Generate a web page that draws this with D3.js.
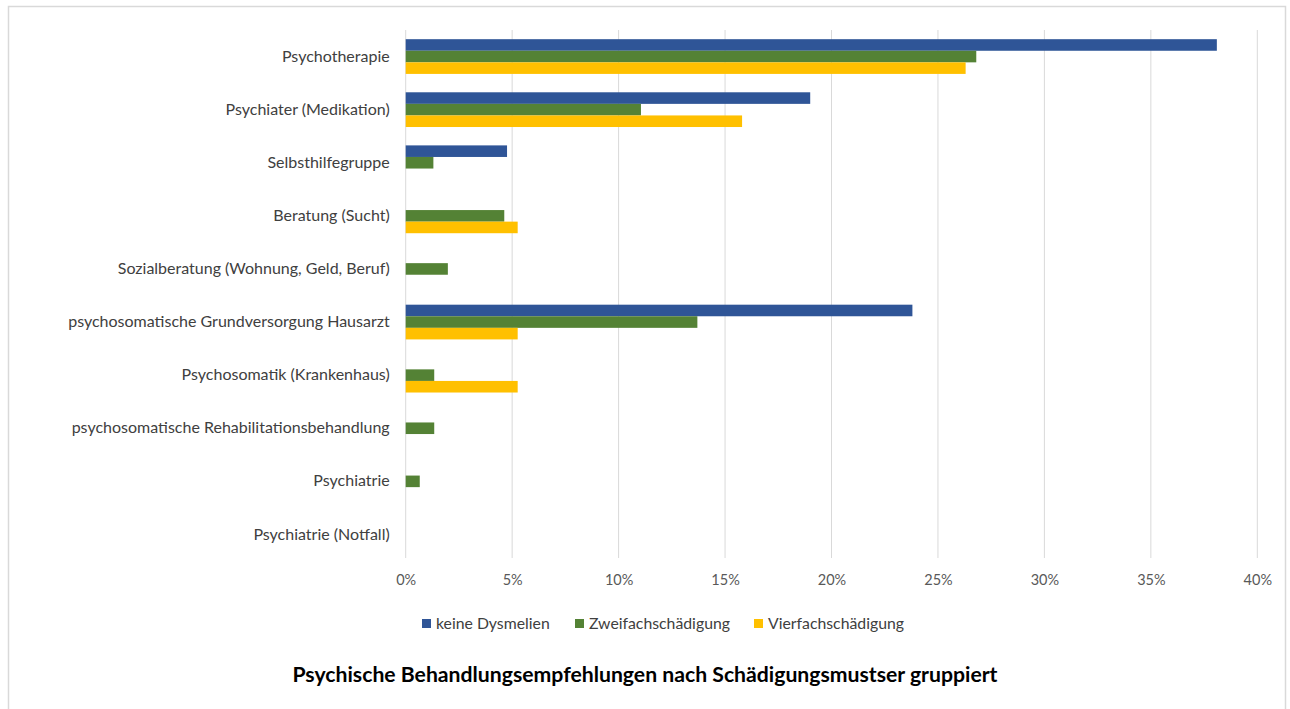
<!DOCTYPE html>
<html>
<head>
<meta charset="utf-8">
<script src="https://cdn.jsdelivr.net/npm/d3@7/dist/d3.min.js"></script>
<style>
  html, body { margin: 0; padding: 0; background: #ffffff; }
  svg { display: block; font-family: Lato, "Open Sans", sans-serif; }
</style>
</head>
<body>
<svg id="chart" width="1290" height="709"></svg>
<script>
// Treatment recommendations (share of respondents, %)
const categories = [
  "Psychotherapie",
  "Psychiater (Medikation)",
  "Selbsthilfegruppe",
  "Beratung (Sucht)",
  "Sozialberatung (Wohnung, Geld, Beruf)",
  "psychosomatische Grundversorgung Hausarzt",
  "Psychosomatik (Krankenhaus)",
  "psychosomatische Rehabilitationsbehandlung",
  "Psychiatrie",
  "Psychiatrie (Notfall)"
];
const seriesNames = ["keine Dysmelien", "Zweifachschädigung", "Vierfachschädigung"];
const keineDysmelien     = [38.1, 19.0, 4.76, 0, 0, 23.8, 0, 0, 0, 0];
const zweifachschaedigung = [26.8, 11.05, 1.3, 4.63, 1.98, 13.7, 1.34, 1.34, 0.66, 0];
const vierfachschaedigung = [26.3, 15.8, 0, 5.26, 0, 5.26, 5.26, 0, 0, 0];
const xTicks = [0, 5, 10, 15, 20, 25, 30, 35, 40];
const titleText = "Psychische Behandlungsempfehlungen nach Schädigungsmustser gruppiert";

const seriesValues = [keineDysmelien, zweifachschaedigung, vierfachschaedigung];
const colors = ["#2F5597", "#548235", "#FFC000"];

const svg = d3.select("#chart");

// outer chart frame
svg.append("rect")
  .attr("x", 8.5).attr("y", 6.5)
  .attr("width", 1277).attr("height", 720)
  .attr("fill", "#ffffff")
  .attr("stroke", "#d9d9d9").attr("stroke-width", 1.5);

const plot = { left: 405.7, right: 1257.3, top: 30, bottom: 561 };

const x = d3.scaleLinear().domain([0, 40]).range([plot.left, plot.right]);
const y = d3.scaleBand().domain(categories).range([plot.top, plot.bottom])
  .paddingInner(0.346).paddingOuter(0.173);
const ySub = d3.scaleBand().domain(seriesNames).range([0, y.bandwidth()]);

// vertical gridlines
svg.append("g")
  .selectAll("line")
  .data(xTicks)
  .join("line")
  .attr("x1", d => x(d)).attr("x2", d => x(d))
  .attr("y1", plot.top).attr("y2", plot.bottom - 3)
  .attr("stroke", "#d9d9d9").attr("stroke-width", 1);

// bars
const rows = categories.map((c, i) => ({
  cat: c,
  vals: seriesNames.map((s, j) => ({ s, v: seriesValues[j][i], color: colors[j] }))
}));

const groups = svg.append("g")
  .selectAll("g")
  .data(rows)
  .join("g")
  .attr("transform", d => `translate(0,${y(d.cat)})`);

groups.selectAll("rect")
  .data(d => d.vals.filter(v => v.v > 0))
  .join("rect")
  .attr("x", x(0))
  .attr("y", d => ySub(d.s))
  .attr("width", d => x(d.v) - x(0))
  .attr("height", ySub.bandwidth())
  .attr("fill", d => d.color);

// category axis labels
const yAxis = d3.axisLeft(y).tickSize(0).tickPadding(16);
const yg = svg.append("g")
  .attr("transform", `translate(${x(0)},0)`)
  .call(yAxis);
yg.select(".domain").remove();
yg.selectAll("text")
  .attr("font-family", "Lato, sans-serif")
  .attr("font-size", 16)
  .attr("fill", "#404040");

// value axis labels
const xAxis = d3.axisBottom(x).tickValues(xTicks).tickSize(0).tickPadding(0)
  .tickFormat(d => d + "%");
const xg = svg.append("g")
  .attr("transform", `translate(0,${plot.bottom + 14})`)
  .call(xAxis);
xg.select(".domain").remove();
xg.selectAll("text")
  .attr("font-family", "Lato, sans-serif")
  .attr("font-size", 14.5)
  .attr("fill", "#595959");

// legend
const legendX = [422, 575, 754];
const legend = svg.append("g")
  .selectAll("g")
  .data(seriesNames)
  .join("g")
  .attr("transform", (d, i) => `translate(${legendX[i]},619)`);
legend.append("rect")
  .attr("width", 9).attr("height", 9)
  .attr("fill", (d, i) => colors[i]);
legend.append("text")
  .attr("x", 14).attr("y", 4.5)
  .attr("dy", "0.35em")
  .attr("font-family", "Lato, sans-serif")
  .attr("font-size", 15.8)
  .attr("fill", "#404040")
  .text(d => d);

// title
svg.append("text")
  .attr("x", 645).attr("y", 675)
  .attr("dy", "0.35em")
  .attr("text-anchor", "middle")
  .attr("font-family", "Lato, sans-serif")
  .attr("font-weight", "bold")
  .attr("font-size", 21.2)
  .attr("fill", "#000000")
  .text(titleText);
</script>
</body>
</html>
